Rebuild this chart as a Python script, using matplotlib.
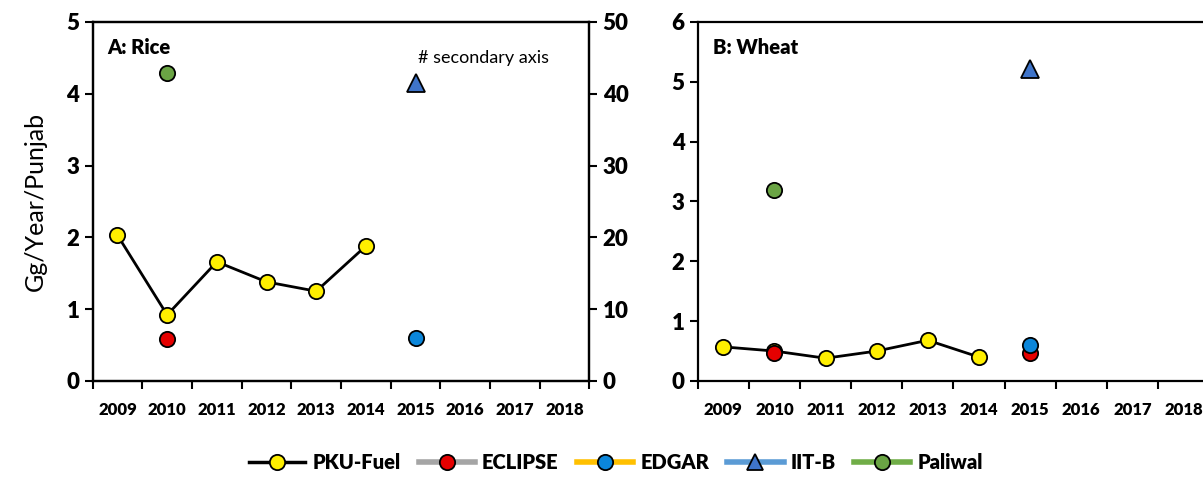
"""Recreate the rice / wheat emission comparison chart as out.png."""

import matplotlib

matplotlib.use("Agg")

import matplotlib.pyplot as plt
from matplotlib.lines import Line2D

plt.rcParams["font.family"] = ["Lato", "DejaVu Sans"]

years = ["2009", "2010", "2011", "2012", "2013", "2014", "2015", "2016", "2017", "2018"]

# panel A: rice (Gg/Year/Punjab), IIT-B on secondary axis
rice_pku_years = ["2009", "2010", "2011", "2012", "2013", "2014"]
rice_pku = [2.03, 0.92, 1.66, 1.38, 1.25, 1.88]
rice_eclipse_years = ["2010"]
rice_eclipse = [0.59]
rice_edgar_years = ["2015"]
rice_edgar = [0.60]
rice_iitb_years = ["2015"]
rice_iitb = [41.5]
rice_paliwal_years = ["2010"]
rice_paliwal = [4.29]

# panel B: wheat
wheat_pku_years = ["2009", "2010", "2011", "2012", "2013", "2014"]
wheat_pku = [0.57, 0.50, 0.38, 0.50, 0.68, 0.40]
wheat_eclipse_years = ["2010", "2015"]
wheat_eclipse = [0.47, 0.46]
wheat_edgar_years = ["2015"]
wheat_edgar = [0.60]
wheat_iitb_years = ["2015"]
wheat_iitb = [5.21]
wheat_paliwal_years = ["2010"]
wheat_paliwal = [3.19]

YELLOW = "#FFEF00"
RED = "#E50000"
BLUE = "#0B86DA"
TRI = "#3F74C9"
GREEN = "#6AA444"
MS = 11


def xpos(labels):
    return [years.index(y) for y in labels]


def style_axis(ax, ymax):
    ax.set_xlim(-0.5, len(years) - 0.5)
    ax.set_ylim(0, ymax)
    ax.set_xticks([i - 0.5 for i in range(len(years) + 1)])
    ax.set_xticklabels([])
    ax.set_xticks(range(len(years)), minor=True)
    ax.set_xticklabels(years, minor=True, fontweight="heavy", fontsize=12)
    ax.tick_params(axis="x", which="minor", length=0, pad=15)
    ax.tick_params(axis="x", which="major", length=6, width=1.5, direction="out")
    ax.set_yticks(range(ymax + 1))
    ax.tick_params(axis="y", length=6, width=1.5, direction="out", labelsize=16)
    for lab in ax.get_yticklabels():
        lab.set_fontweight("heavy")
    for sp in ax.spines.values():
        sp.set_linewidth(1.6)


def dots(ax, labels, vals, color, marker="o", size=MS, z=3):
    ax.plot(xpos(labels), vals, linestyle="none", marker=marker, markersize=size,
            markerfacecolor=color, markeredgecolor="black", markeredgewidth=1.3, zorder=z)


def main():
    fig = plt.figure(figsize=(12.03, 4.78), dpi=100)
    ax1 = fig.add_axes([0.077, 0.203, 0.413, 0.751])
    ax2 = fig.add_axes([0.580, 0.203, 0.425, 0.751])

    # rice
    style_axis(ax1, 5)
    ax1.plot(xpos(rice_pku_years), rice_pku, color="black", linewidth=2,
             marker="o", markersize=MS, markerfacecolor=YELLOW,
             markeredgecolor="black", markeredgewidth=1.3, zorder=3)
    dots(ax1, rice_eclipse_years, rice_eclipse, RED)
    dots(ax1, rice_edgar_years, rice_edgar, BLUE)
    dots(ax1, rice_paliwal_years, rice_paliwal, GREEN)
    ax1.set_ylabel("Gg/Year/Punjab", fontsize=18, labelpad=14)
    ax1.text(0.03, 0.955, "A: Rice", transform=ax1.transAxes, fontsize=14.5,
             fontweight="heavy", va="top")
    sec = ax1.twinx()
    sec.set_ylim(0, 50)
    sec.set_yticks(range(0, 51, 10))
    sec.tick_params(axis="y", length=6, width=1.5, direction="out", labelsize=16)
    for lab in sec.get_yticklabels():
        lab.set_fontweight("heavy")
    for sp in sec.spines.values():
        sp.set_linewidth(1.6)
    sec.plot(xpos(rice_iitb_years), rice_iitb, linestyle="none", marker="^",
             markersize=13, markerfacecolor=TRI, markeredgecolor="black",
             markeredgewidth=1.3, zorder=3)
    sec.text(6.05, 45.0, "# secondary axis", fontsize=13, va="center")

    # wheat
    style_axis(ax2, 6)
    ax2.plot(xpos(wheat_pku_years), wheat_pku, color="black", linewidth=2,
             marker="o", markersize=MS, markerfacecolor=YELLOW,
             markeredgecolor="black", markeredgewidth=1.3, zorder=3)
    dots(ax2, wheat_eclipse_years, wheat_eclipse, RED, z=4)
    dots(ax2, wheat_edgar_years, wheat_edgar, BLUE, z=5)
    dots(ax2, wheat_iitb_years, wheat_iitb, TRI, marker="^", size=13)
    dots(ax2, wheat_paliwal_years, wheat_paliwal, GREEN)
    ax2.text(0.03, 0.955, "B: Wheat", transform=ax2.transAxes, fontsize=14.5,
             fontweight="heavy", va="top")

    handles = [
        Line2D([], [], color="black", lw=2.5, marker="o", ms=MS, mfc=YELLOW, mec="black", mew=1.3),
        Line2D([], [], color="#A5A5A5", lw=4, marker="o", ms=MS, mfc=RED, mec="black", mew=1.3),
        Line2D([], [], color="#FFC000", lw=4, marker="o", ms=MS, mfc=BLUE, mec="black", mew=1.3),
        Line2D([], [], color="#5B9BD5", lw=4, marker="^", ms=MS, mfc=TRI, mec="black", mew=1.3),
        Line2D([], [], color="#70AD47", lw=4, marker="o", ms=MS, mfc=GREEN, mec="black", mew=1.3),
    ]
    fig.legend(handles, ["PKU-Fuel", "ECLIPSE", "EDGAR", "IIT-B", "Paliwal"],
               loc="center", bbox_to_anchor=(0.512, 0.032), ncol=5, frameon=False,
               prop={"weight": "heavy", "size": 14.5}, handlelength=2.8,
               handletextpad=0.35, columnspacing=0.9)

    fig.savefig("out.png", dpi=100)


if __name__ == "__main__":
    main()
